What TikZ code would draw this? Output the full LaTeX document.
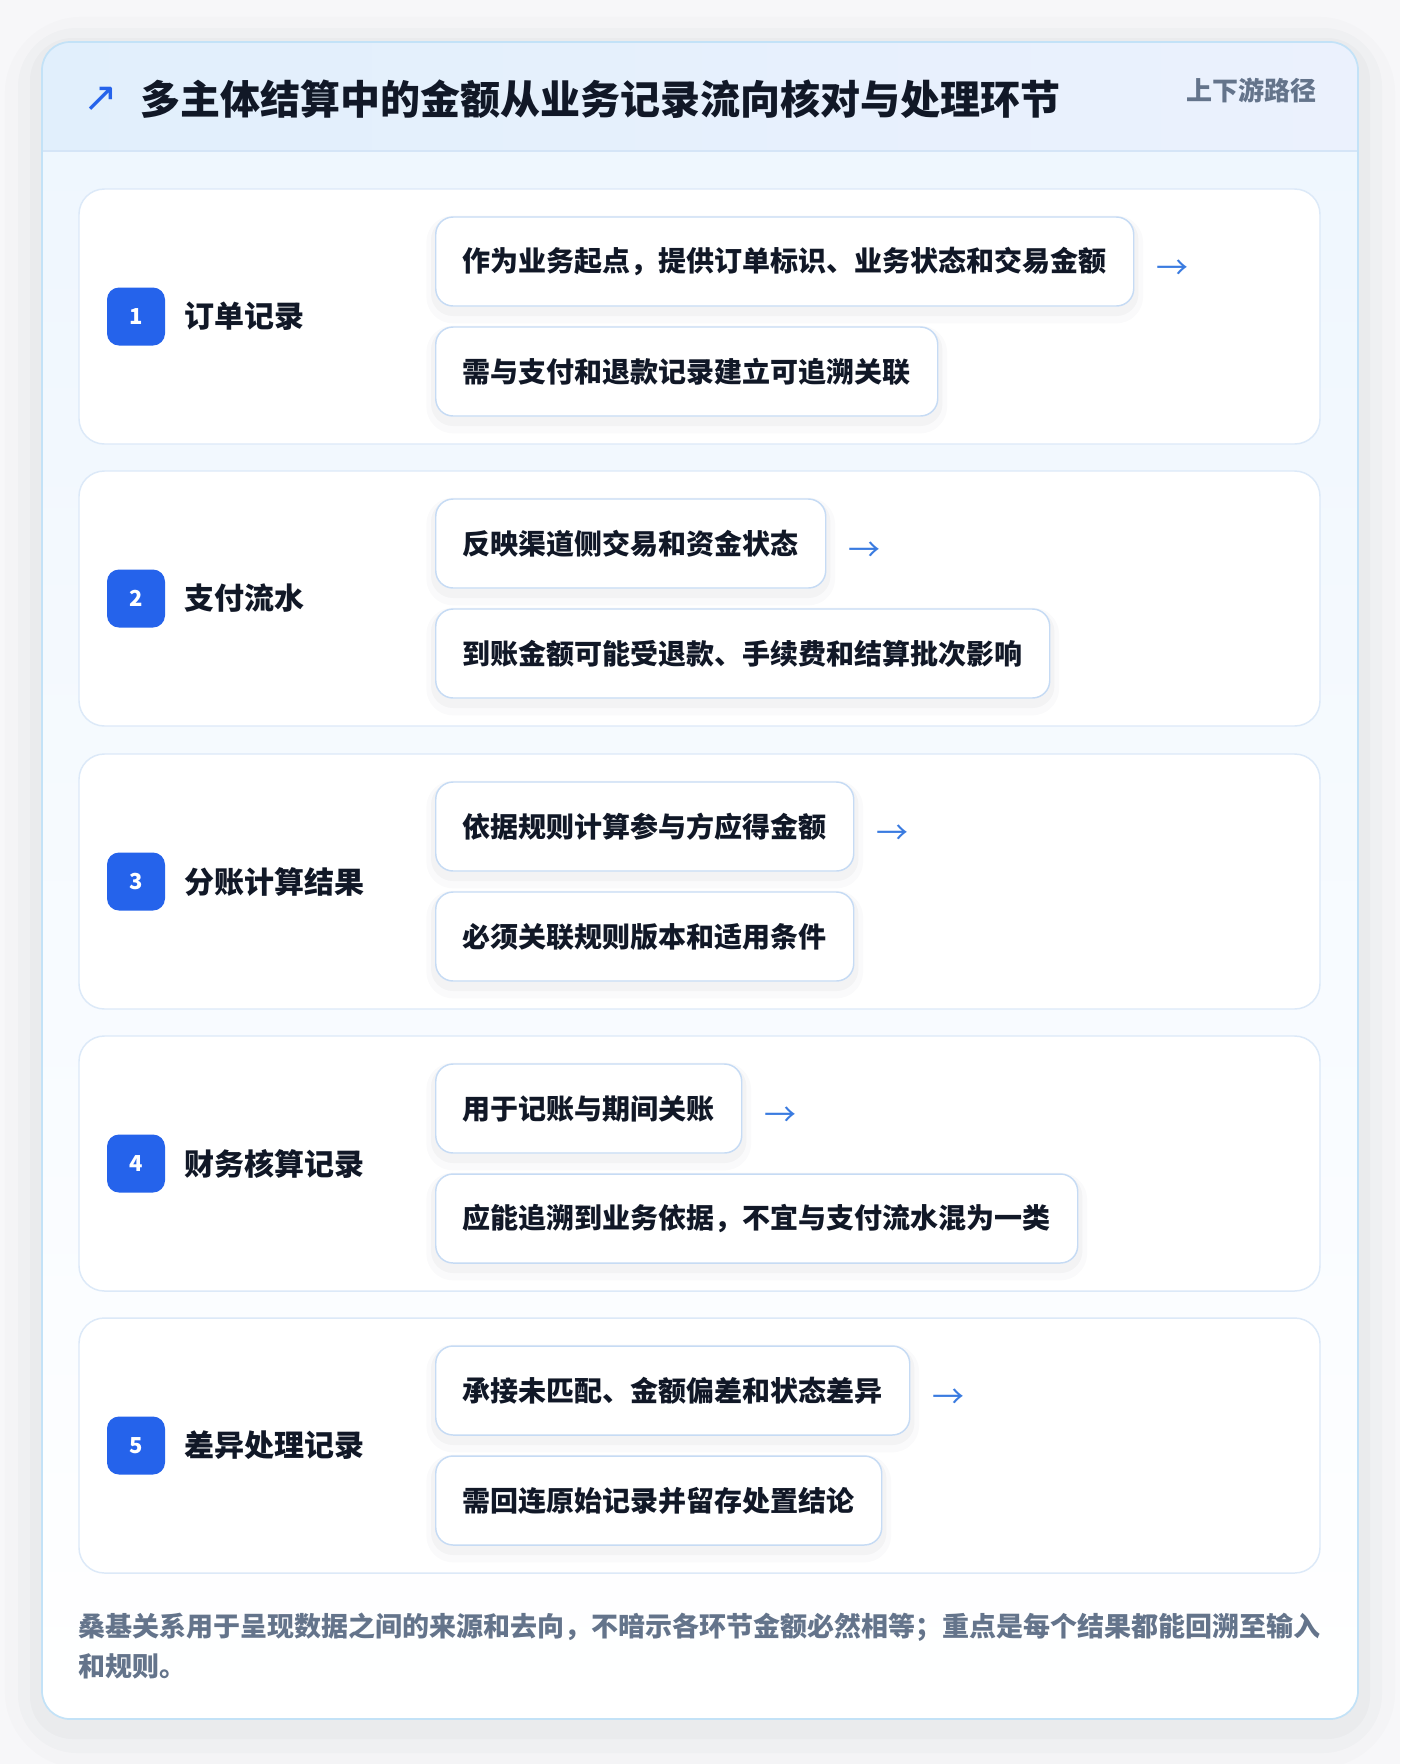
\documentclass[tikz,border=0pt]{standalone}
\usepackage{fontspec}
\setmainfont{Noto Sans CJK SC}[BoldFont={Noto Sans CJK SC Black}]
\newfontfamily\symfont{DejaVu Sans}
\definecolor{pagebg}{HTML}{F7F7F9}
\definecolor{cardline}{HTML}{C3E2F7}
\definecolor{cardtop}{HTML}{EEF6FE}
\definecolor{headl}{HTML}{E1EFFC}
\definecolor{headr}{HTML}{EBF1FD}
\definecolor{headline}{HTML}{D5E5F7}
\definecolor{rowline}{HTML}{DCE9F8}
\definecolor{boxline}{HTML}{C6DBF4}
\definecolor{badgeblue}{HTML}{2563EB}
\definecolor{ink}{HTML}{111827}
\definecolor{footgray}{HTML}{64748B}
\definecolor{arrowblue}{HTML}{3A7BE0}
\definecolor{shadowc}{HTML}{1E293B}
\tikzset{
	rowcard/.style={draw=rowline,line width=1.1pt,fill=white,rounded corners=19pt},
	itembox/.style={draw=boxline,line width=1.1pt,fill=white,rounded corners=13pt,anchor=west,
		minimum height=66.75pt,inner xsep=20.25pt,inner ysep=0pt,text=ink,
		font=\fontsize{21}{25}\selectfont\bfseries,
		preaction={draw=shadowc,line width=14pt,opacity=.018,transform canvas={yshift=-6pt}},
		preaction={draw=shadowc,line width=7pt,opacity=.03,transform canvas={yshift=-4pt}}},
	badge/.style={fill=badgeblue,rounded corners=9pt,minimum size=43.5pt,inner sep=0pt,text=white,
		font=\fontsize{16.5}{18}\selectfont\bfseries},
	rowlabel/.style={anchor=west,inner sep=0pt,text=ink,font=\fontsize{22.5}{26}\selectfont\bfseries},
	flowarrow/.style={anchor=west,inner sep=0pt,text=arrowblue,font=\fontsize{24}{25}\selectfont}
}
\begin{document}
\begin{tikzpicture}[line cap=round,line join=round,x=0.75pt,y=-0.75pt]
	\useasboundingbox (0,0) rectangle (1400,1764);
	\fill[pagebg] (0,0) rectangle (1400,1764);
	\draw[shadowc,opacity=.012,line width=56pt,rounded corners=30pt] (42,54) rectangle (1358,1731);
	\draw[shadowc,opacity=.018,line width=36pt,rounded corners=26pt] (42,52) rectangle (1358,1729);
	\draw[shadowc,opacity=.024,line width=18pt,rounded corners=23pt] (42,50) rectangle (1358,1727);
	\shade[top color=cardtop,bottom color=white,rounded corners=21pt] (42,42) rectangle (1358,1719);
	\begin{scope}
		\clip[rounded corners=21pt] (42,42) rectangle (1358,1719);
		\shade[left color=headl,right color=headr] (42,42) rectangle (1358,151);
	\end{scope}
	\draw[headline,line width=1.2pt] (42,151) -- (1358,151);
	\draw[cardline,line width=1.3pt,rounded corners=21pt] (42,42) rectangle (1358,1719);
	\node[anchor=west,inner sep=0pt,text=badgeblue,font=\symfont\fontsize{31}{31}\selectfont] (titleicon) at (83,99) {↗};
	\node[anchor=west,inner sep=0pt,text=ink,font=\fontsize{30}{34}\selectfont\bfseries] (title) at (140,99) {多主体结算中的金额从业务记录流向核对与处理环节};
	\node[anchor=east,inner sep=0pt,text=footgray,font=\fontsize{19.5}{22}\selectfont\bfseries] (pathtag) at (1317,90) {上下游路径};

	\draw[rowcard] (79,189) rectangle (1320,444);
	\node[badge] (badge1) at (136,316.5) {1};
	\node[rowlabel] (label1) at (184,316.5) {订单记录};
	\node[itembox] (item1a) at (435,261.5) {作为业务起点，提供订单标识、业务状态和交易金额};
	\node[itembox] (item1b) at (435,371.5) {需与支付和退款记录建立可追溯关联};
	\node[flowarrow] (flow1) at ([xshift=16.5pt,yshift=-6.5pt]item1a.east) {→};

	\draw[rowcard] (79,471) rectangle (1320,726);
	\node[badge] (badge2) at (136,598.5) {2};
	\node[rowlabel] (label2) at (184,598.5) {支付流水};
	\node[itembox] (item2a) at (435,543.5) {反映渠道侧交易和资金状态};
	\node[itembox] (item2b) at (435,653.5) {到账金额可能受退款、手续费和结算批次影响};
	\node[flowarrow] (flow2) at ([xshift=16.5pt,yshift=-6.5pt]item2a.east) {→};

	\draw[rowcard] (79,754) rectangle (1320,1009);
	\node[badge] (badge3) at (136,881.5) {3};
	\node[rowlabel] (label3) at (184,881.5) {分账计算结果};
	\node[itembox] (item3a) at (435,826.5) {依据规则计算参与方应得金额};
	\node[itembox] (item3b) at (435,936.5) {必须关联规则版本和适用条件};
	\node[flowarrow] (flow3) at ([xshift=16.5pt,yshift=-6.5pt]item3a.east) {→};

	\draw[rowcard] (79,1036) rectangle (1320,1291);
	\node[badge] (badge4) at (136,1163.5) {4};
	\node[rowlabel] (label4) at (184,1163.5) {财务核算记录};
	\node[itembox] (item4a) at (435,1108.5) {用于记账与期间关账};
	\node[itembox] (item4b) at (435,1218.5) {应能追溯到业务依据，不宜与支付流水混为一类};
	\node[flowarrow] (flow4) at ([xshift=16.5pt,yshift=-6.5pt]item4a.east) {→};

	\draw[rowcard] (79,1318) rectangle (1320,1573);
	\node[badge] (badge5) at (136,1445.5) {5};
	\node[rowlabel] (label5) at (184,1445.5) {差异处理记录};
	\node[itembox] (item5a) at (435,1390.5) {承接未匹配、金额偏差和状态差异};
	\node[itembox] (item5b) at (435,1500.5) {需回连原始记录并留存处置结论};
	\node[flowarrow] (flow5) at ([xshift=16.5pt,yshift=-6.5pt]item5a.east) {→};

	\node[anchor=west,align=left,inner sep=0pt,text=footgray,font=\fontsize{20.25}{30.4}\selectfont\bfseries] (footnote) at (78,1646) {桑基关系用于呈现数据之间的来源和去向，不暗示各环节金额必然相等；重点是每个结果都能回溯至输入\\和规则。};
\end{tikzpicture}
\end{document}
